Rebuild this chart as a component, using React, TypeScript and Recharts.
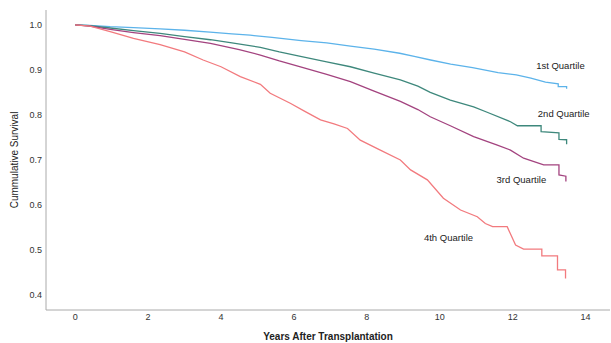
import { LineChart, Line, XAxis, YAxis, ReferenceDot } from 'recharts'

// Kaplan-Meier readings: years after transplantation vs. cumulative survival.
// Repeated years mark the visible vertical drops near the end of each curve.
const q1Years = [0, 0.4, 0.96, 1.6, 2.33, 3.0, 3.7, 4.3, 4.8, 5.4, 6.2, 6.9, 7.55, 8.2, 8.9, 9.3, 9.75, 10.3, 10.9, 11.6, 12.1, 12.5, 12.9, 13.25, 13.25, 13.48, 13.48]
const q1Survival = [1.0, 0.999, 0.996, 0.994, 0.991, 0.988, 0.984, 0.98, 0.977, 0.972, 0.965, 0.96, 0.953, 0.946, 0.937, 0.93, 0.922, 0.913, 0.905, 0.894, 0.889, 0.882, 0.873, 0.869, 0.863, 0.863, 0.858]

const q2Years = [0, 0.4, 0.96, 1.6, 2.33, 3.0, 3.71, 4.3, 5.08, 5.6, 6.18, 6.9, 7.55, 8.2, 8.92, 9.4, 9.74, 10.29, 10.93, 11.3, 11.94, 12.13, 12.78, 12.78, 13.27, 13.27, 13.48, 13.48]
const q2Survival = [1.0, 0.998, 0.993, 0.987, 0.981, 0.974, 0.967, 0.96, 0.95, 0.94, 0.93, 0.918, 0.907, 0.893, 0.878, 0.864, 0.85, 0.833, 0.818, 0.806, 0.785, 0.776, 0.776, 0.763, 0.76, 0.746, 0.745, 0.735]

const q3Years = [0, 0.4, 0.96, 1.6, 2.33, 3.0, 3.71, 4.5, 5.08, 5.6, 6.18, 6.9, 7.55, 8.2, 8.92, 9.4, 9.74, 10.29, 10.93, 11.58, 11.94, 12.3, 12.85, 13.27, 13.27, 13.46, 13.46]
const q3Survival = [1.0, 0.997, 0.99, 0.983, 0.976, 0.968, 0.959, 0.945, 0.933, 0.92, 0.907, 0.89, 0.874, 0.853, 0.83, 0.812, 0.796, 0.776, 0.752, 0.733, 0.722, 0.704, 0.689, 0.689, 0.667, 0.664, 0.652]

const q4Years = [0, 0.41, 0.96, 1.6, 2.33, 3.0, 3.51, 4.0, 4.53, 5.08, 5.35, 5.9, 6.3, 6.73, 7.1, 7.47, 7.82, 8.37, 8.92, 9.2, 9.66, 10.1, 10.57, 11.03, 11.25, 11.45, 11.85, 12.08, 12.3, 12.8, 12.8, 13.23, 13.23, 13.45, 13.45]
const q4Survival = [1.0, 0.997, 0.985, 0.97, 0.956, 0.94, 0.922, 0.907, 0.885, 0.868, 0.848, 0.826, 0.808, 0.789, 0.78, 0.77, 0.744, 0.722, 0.7, 0.678, 0.656, 0.615, 0.589, 0.574, 0.559, 0.552, 0.552, 0.511, 0.502, 0.502, 0.487, 0.487, 0.456, 0.456, 0.437]

const xTicks = [0, 2, 4, 6, 8, 10, 12, 14]
const yTicks = [0.4, 0.5, 0.6, 0.7, 0.8, 0.9, 1.0]

const series = [
  { name: '1st Quartile', years: q1Years, survival: q1Survival, color: '#5cb3ea', label: [13.31, 0.909] },
  { name: '2nd Quartile', years: q2Years, survival: q2Survival, color: '#3e887c', label: [13.4, 0.804] },
  { name: '3rd Quartile', years: q3Years, survival: q3Survival, color: '#a3437f', label: [12.24, 0.656] },
  { name: '4th Quartile', years: q4Years, survival: q4Survival, color: '#f27a7e', label: [10.24, 0.527] },
]

const font = '"Liberation Sans", Arial, sans-serif'
const tickStyle = { fill: '#333', fontSize: 9, fontFamily: font }

export default function App() {
  return (
    <div style={{ position: 'absolute', left: 0, top: 0, background: '#fff' }}>
      <LineChart width={611} height={343} margin={{ top: 10, right: 1, bottom: 0, left: 0 }}>
        <XAxis
          type="number"
          dataKey="t"
          domain={[-0.8, 14.67]}
          ticks={xTicks}
          tick={tickStyle}
          tickLine={false}
          tickSize={2}
          tickMargin={2}
          axisLine={{ stroke: '#aaa' }}
          height={33}
          label={{
            value: 'Years After Transplantation',
            position: 'insideBottom',
            offset: 3,
            style: { fill: '#222', fontSize: 10, fontWeight: 'bold', fontFamily: font },
          }}
        />
        <YAxis
          type="number"
          domain={[0.367, 1.033]}
          ticks={yTicks}
          tickFormatter={(v: number) => v.toFixed(1)}
          tick={tickStyle}
          tickLine={false}
          tickSize={2}
          tickMargin={2}
          axisLine={{ stroke: '#aaa' }}
          width={46}
          label={{
            value: 'Cummulative Survival',
            angle: -90,
            position: 'insideLeft',
            offset: 14,
            style: { textAnchor: 'middle', fill: '#222', fontSize: 10, fontFamily: font },
          }}
        />
        {series.map((s) => (
          <Line
            key={s.name}
            data={s.years.map((t, i) => ({ t, s: s.survival[i] }))}
            dataKey="s"
            type="linear"
            stroke={s.color}
            strokeWidth={1.3}
            dot={false}
            activeDot={false}
            isAnimationActive={false}
          />
        ))}
        {series.map((s) => (
          <ReferenceDot
            key={s.name + '-label'}
            x={s.label[0]}
            y={s.label[1]}
            r={0}
            fill="none"
            stroke="none"
            label={{
              value: s.name,
              position: 'center',
              style: { fill: '#222', fontSize: 9.5, fontFamily: font },
            }}
          />
        ))}
      </LineChart>
    </div>
  )
}
